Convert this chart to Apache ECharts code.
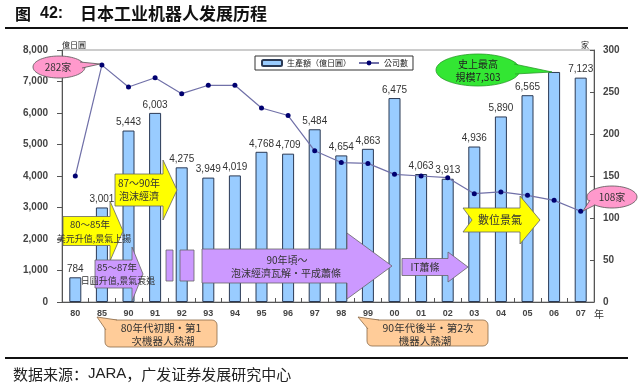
<!DOCTYPE html>
<html>
<head>
<meta charset="utf-8">
<script src="https://cdn.jsdelivr.net/npm/echarts@6/dist/echarts.min.js"></script>
<style>
html,body{margin:0;padding:0;background:#fff;}
#c{width:640px;height:391px;}
</style>
</head>
<body>
<div id="c"></div>
<script>
// ---- data ----
const categories = ['80','85','90','91','92','93','94','95','96','97','98','99','00','01','02','03','04','05','06','07'];
const production = [784,3001,5443,6003,4275,3949,4019,4768,4709,5484,4654,4863,6475,4063,3913,4936,5890,6565,7303,7123];
const companies = [150,282,256,267,248,258,258,231,222,180,166,165,152,150,148,129,131,127,121,108];
const leftTicks = [0,1000,2000,3000,4000,5000,6000,7000,8000];
const rightTicks = [0,50,100,150,200,250,300];
const hiddenBarLabels = ['06'];
const seriesNames = ['生產額（億日圓）','公司數'];

const CJK = '"Noto Sans CJK TC","Noto Sans CJK SC",sans-serif';
const LAT = '"Liberation Sans",Arial,"Noto Sans CJK TC",sans-serif';

function txt(t, x, y, size, opts) {
  opts = opts || {};
  return {
    type: 'text', z: 120,
    style: {
      text: t, x: x, y: y,
      fontSize: size, fontFamily: opts.family || CJK,
      fontWeight: opts.weight || 'normal',
      fill: opts.color || '#333',
      align: opts.align || 'center', verticalAlign: 'middle'
    }
  };
}
function arrow(x0, x1, x2, yc, bodyH, headH, fill, notch) {
  const t = yc - bodyH / 2, b = yc + bodyH / 2;
  const pts = [[x0, t], [x1, t], [x1, yc - headH / 2], [x2, yc], [x1, yc + headH / 2], [x1, b], [x0, b]];
  if (notch) pts.push([x0 + notch, yc]);
  return { type: 'polygon', z: 110, shape: { points: pts }, style: { fill: fill, stroke: '#666', lineWidth: 0.8 } };
}
function bubble(cx, cy, rx, ry, base1, base2, tip, fill, stroke) {
  return [
    { type: 'ellipse', z: 110, shape: { cx: cx, cy: cy, rx: rx, ry: ry }, style: { fill: fill, stroke: stroke, lineWidth: 0.8 } },
    { type: 'polygon', z: 111, shape: { points: [base1, tip, base2] }, style: { fill: fill } },
    { type: 'polyline', z: 112, shape: { points: [base1, tip, base2] }, style: { fill: null, stroke: stroke, lineWidth: 0.8 } }
  ];
}
function callout(x, y, w, h, base1, base2, tip) {
  const fill = '#FFCC99', stroke = '#8a6a48';
  return [
    { type: 'rect', z: 110, shape: { x: x, y: y, width: w, height: h, r: 5 }, style: { fill: fill, stroke: stroke, lineWidth: 0.8 } },
    { type: 'polygon', z: 111, shape: { points: [base1, tip, base2] }, style: { fill: fill } },
    { type: 'polyline', z: 112, shape: { points: [base1, tip, base2] }, style: { fill: null, stroke: stroke, lineWidth: 0.8 } }
  ];
}

const YEL = '#FFFF00', PUR = '#CC99FF';
const footer = {
  type: 'text', z: 120,
  style: {
    text: '{a|数据来源：}{b|JARA}{a|，广发证券发展研究中心}',
    x: 13, y: 374, align: 'left', verticalAlign: 'middle',
    rich: {
      a: { fontSize: 15, fontFamily: '"Noto Sans CJK SC",sans-serif', fill: '#222' },
      b: { fontSize: 15, fontFamily: LAT, fill: '#222' }
    }
  }
};
const graphics = [].concat(
  // title & footer
  [txt('图', 15, 14, 16, { weight: 'bold', align: 'left', color: '#111', family: '"Noto Sans CJK SC",sans-serif' }),
   txt('42:', 40, 14, 16, { weight: 'bold', align: 'left', color: '#111', family: LAT }),
   txt('日本工业机器人发展历程', 80, 14, 17, { weight: 'bold', align: 'left', color: '#111', family: '"Noto Sans CJK SC",sans-serif' }),
   { type: 'line', z: 120, shape: { x1: 5, y1: 28, x2: 628, y2: 28 }, style: { stroke: '#111', lineWidth: 2 } },
   { type: 'line', z: 120, shape: { x1: 5, y1: 358, x2: 628, y2: 358 }, style: { stroke: '#111', lineWidth: 2 } },
   footer,
   txt('億日圓', 62, 45, 8, { align: 'left', color: '#222' }),
   txt('家', 585, 45, 8, { color: '#222' }),
   txt('年', 599, 314, 10, { color: '#333' })],
  // purple fragments and arrows
  [{ type: 'rect', z: 109, shape: { x: 166, y: 250, width: 7, height: 31 }, style: { fill: PUR, stroke: '#666', lineWidth: 0.8 } },
   { type: 'rect', z: 109, shape: { x: 180, y: 250, width: 14, height: 31 }, style: { fill: PUR, stroke: '#666', lineWidth: 0.8 } },
   arrow(202, 347, 392, 266, 34, 66, PUR),
   txt('90年頃～', 287, 260, 10),
   txt('泡沫經濟瓦解・平成蕭條', 286, 273, 10),
   arrow(115, 163, 177, 190, 32, 60, YEL),
   txt('87～90年', 139, 183, 10),
   txt('泡沫經濟', 139, 196, 10),
   arrow(63, 110, 123, 231, 29, 60, YEL),
   txt('80～85年', 90, 224, 9.5),
   txt('美元升值,景氣上揚', 94, 239, 9),
   arrow(95, 132, 143, 274, 28, 54, PUR),
   txt('85～87年', 117, 267, 9.5),
   txt('日圓升值,景氣衰退', 118, 281, 9),
   arrow(402, 448, 468, 267, 17, 30, PUR),
   txt('IT蕭條', 425, 267, 10),
   arrow(463, 520, 540, 220, 24, 48, YEL, 9),
   txt('數位景氣', 500, 220, 11)],
  // bubbles
  bubble(59, 67, 26, 11, [80, 62], [82, 68], [100, 64], '#FF99CC', '#555'),
  [txt('282家', 58, 67, 10)],
  bubble(478, 70, 42, 16, [514, 64], [515, 74], [552, 72], '#33E633', '#2a9a2a'),
  [txt('史上最高', 478, 64, 10, { color: '#222' }), txt('規模7,303', 478, 77, 10, { color: '#222' })],
  bubble(612, 197, 25, 11, [590, 200], [595, 205], [583, 211], '#FF99CC', '#555'),
  [txt('108家', 612, 197, 10)],
  // orange callouts
  callout(105, 320, 112, 27, [106, 330], [117, 320], [97, 317]),
  [txt('80年代初期・第1', 161, 328, 10.5), txt('次機器人熱潮', 163, 341, 10.5)],
  callout(367, 320, 121, 26, [368, 329], [379, 320], [358, 317]),
  [txt('90年代後半・第2次', 428, 328, 10.5), txt('機器人熱潮', 425, 341, 10.5)]
);

const barData = production.map((v, i) => ({
  value: v,
  label: { show: hiddenBarLabels.indexOf(categories[i]) < 0 }
}));

const chart = echarts.init(document.getElementById('c'), null, { renderer: 'canvas' });
chart.setOption({
  backgroundColor: '#fff',
  animation: false,
  textStyle: { fontFamily: LAT },
  grid: { left: 62, right: 46, top: 50, bottom: 89, show: true, borderColor: '#999', borderWidth: 1, backgroundColor: 'transparent' },
  legend: {
    left: 255, top: 56, orient: 'horizontal',
    data: seriesNames,
    itemWidth: 20, itemHeight: 6, itemGap: 7,
    borderColor: '#333', borderWidth: 1, borderRadius: 0,
    padding: [3, 5, 3, 6],
    backgroundColor: '#fff',
    textStyle: { fontSize: 8, color: '#222', fontFamily: CJK }
  },
  xAxis: {
    type: 'category', data: categories, boundaryGap: true,
    axisLine: { lineStyle: { color: '#555', width: 1 } },
    axisTick: { show: true, inside: true, length: 4, interval: 0, lineStyle: { color: '#555' } },
    axisLabel: { fontSize: 9, color: '#444', fontWeight: 'bold', margin: 7, interval: 0 }
  },
  yAxis: [
    {
      type: 'value', position: 'left',
      min: leftTicks[0], max: leftTicks[leftTicks.length - 1], interval: leftTicks[1] - leftTicks[0],
      axisLine: { show: true, lineStyle: { color: '#555', width: 1 } },
      axisTick: { show: true, length: 5, lineStyle: { color: '#555' } },
      splitLine: { show: false },
      axisLabel: { formatter: v => v.toLocaleString('en-US'), fontSize: 10, color: '#444', fontWeight: 'bold', margin: 14 }
    },
    {
      type: 'value', position: 'right',
      min: rightTicks[0], max: rightTicks[rightTicks.length - 1], interval: rightTicks[1] - rightTicks[0],
      axisLine: { show: true, lineStyle: { color: '#555', width: 1 } },
      axisTick: { show: true, inside: true, length: 4, lineStyle: { color: '#555' } },
      splitLine: { show: false },
      axisLabel: { fontSize: 10, color: '#444', fontWeight: 'bold', margin: 9 }
    }
  ],
  series: [
    {
      name: seriesNames[0], type: 'bar', yAxisIndex: 0,
      data: barData, barWidth: 12,
      itemStyle: { color: '#99CCFF', borderColor: '#2B3A55', borderWidth: 1 },
      label: {
        show: true, position: 'top', distance: 3,
        formatter: p => p.value.toLocaleString('en-US'),
        fontSize: 10, color: '#333', fontFamily: LAT
      }
    },
    {
      name: seriesNames[1], type: 'line', yAxisIndex: 1,
      data: companies,
      symbol: 'circle', symbolSize: 5,
      lineStyle: { color: '#7070A8', width: 1.2 },
      itemStyle: { color: '#000070' }
    }
  ],
  graphic: { elements: graphics }
});
</script>
</body>
</html>
